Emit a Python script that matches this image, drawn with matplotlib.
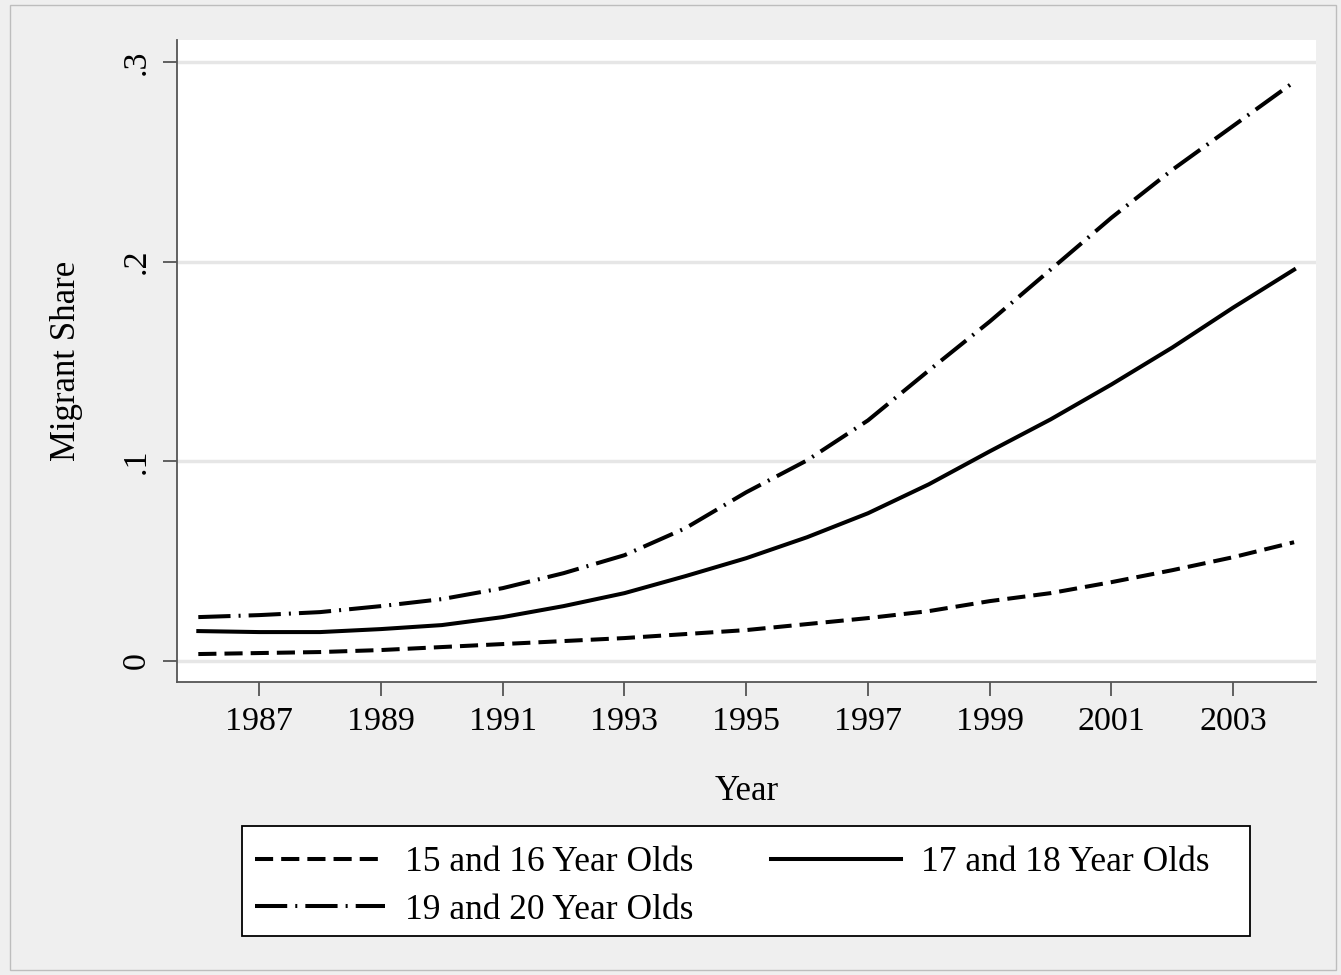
import numpy as np
import matplotlib.pyplot as plt
from matplotlib.patches import Rectangle

plt.rcParams['font.family'] = ['Liberation Serif', 'DejaVu Serif']

years = list(range(1986, 2005))

age_15_16 = [0.0035, 0.004, 0.0045, 0.0055, 0.007, 0.0085, 0.010, 0.0115, 0.0135, 0.0155,
             0.0185, 0.0215, 0.025, 0.030, 0.034, 0.0395, 0.0455, 0.052, 0.0595]
age_17_18 = [0.015, 0.0145, 0.0145, 0.016, 0.018, 0.022, 0.0275, 0.034, 0.0425, 0.0515,
             0.062, 0.074, 0.0885, 0.105, 0.121, 0.1385, 0.157, 0.177, 0.196]
age_19_20 = [0.022, 0.023, 0.0245, 0.0275, 0.031, 0.0365, 0.044, 0.053, 0.0665, 0.0845,
             0.1005, 0.1205, 0.1455, 0.170, 0.196, 0.222, 0.246, 0.268, 0.290]

xticks = [1987, 1989, 1991, 1993, 1995, 1997, 1999, 2001, 2003]
yticks = [0, 0.1, 0.2, 0.3]
ytick_labels = ['0', '.1', '.2', '.3']

W, H = 1341, 975
fig = plt.figure(figsize=(W / 100, H / 100), dpi=100, facecolor='#efefef')
fig.patches.append(Rectangle((10 / W, 1 - 970 / H), 1326 / W, 965 / H, transform=fig.transFigure,
                             fill=False, edgecolor='#bdbdbd', linewidth=1))

ax = fig.add_axes([177 / W, 1 - 682 / H, (1316 - 177) / W, (682 - 40) / H])
ax.set_facecolor('white')

lw = 2.9
l1, = ax.plot(years, age_15_16, color='black', lw=lw, dashes=(4.5, 2), label='15 and 16 Year Olds')
l2, = ax.plot(years, age_17_18, color='black', lw=lw, label='17 and 18 Year Olds')
l3, = ax.plot(years, age_19_20, color='black', lw=lw, dashes=(8, 2, 0.5, 2), label='19 and 20 Year Olds')

ax.set_xlim(1985.65, 2004.36)
ax.set_ylim(-0.0105, 0.311)
ax.set_xticks(xticks)
ax.set_yticks(yticks)
ax.set_yticklabels(ytick_labels, rotation=90, va='center')
ax.grid(axis='y', color='#e6e6e6', lw=2.5)
ax.set_axisbelow(True)

for s in ['top', 'right']:
    ax.spines[s].set_visible(False)
for s in ['left', 'bottom']:
    ax.spines[s].set_color('#555555')
    ax.spines[s].set_linewidth(1.3)
ax.tick_params(direction='out', length=10, width=1.3, color='#555555', labelsize=24.5, pad=8)

ax.set_xlabel('Year', fontsize=25, labelpad=27)
ax.set_ylabel('Migrant Share', fontsize=25, labelpad=28)

# legend frame drawn by hand so the padding matches
fig.patches.append(Rectangle((242 / W, 1 - 936 / H), (1250 - 242) / W, (936 - 826) / H,
                             transform=fig.transFigure, facecolor='white', edgecolor='black',
                             linewidth=1.3, zorder=0))
leg = fig.legend([l1, l3, l2], ['15 and 16 Year Olds', '19 and 20 Year Olds', '17 and 18 Year Olds'],
                 ncol=2, loc='upper left', bbox_to_anchor=(255 / W, 1 - 846 / H),
                 fontsize=25.5, handlelength=3.67, handletextpad=0.56, labelspacing=0.41,
                 columnspacing=2.2, borderpad=0, borderaxespad=0, frameon=False)

fig.savefig('out.png', dpi=100, facecolor=fig.get_facecolor())
